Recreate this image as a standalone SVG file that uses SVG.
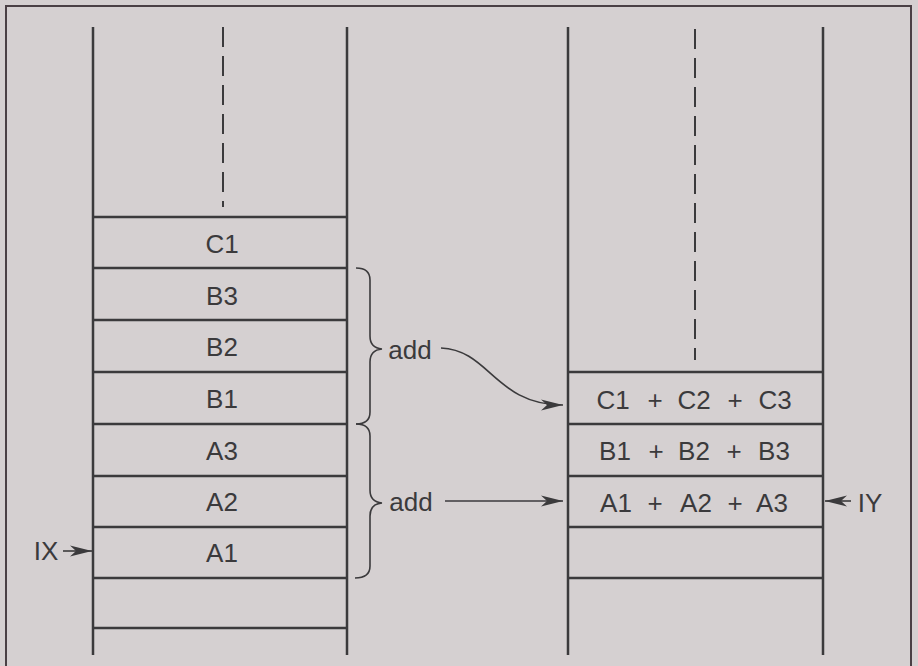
<svg xmlns="http://www.w3.org/2000/svg" width="918" height="666" viewBox="0 0 918 666">
<defs>
<style>
.ln{stroke:#3b3a3c;stroke-width:2.5;fill:none}
.thin{stroke:#3b3a3c;stroke-width:1.6;fill:none}
.dash{stroke:#3b3a3c;stroke-width:2;stroke-dasharray:20 9;fill:none}
.t{font-family:"Liberation Sans",Arial,sans-serif;font-size:26px;fill:#3b3a3c;text-anchor:middle}
</style>
<marker id="ah" viewBox="0 0 22 12" refX="22" refY="6" markerWidth="22" markerHeight="12" markerUnits="userSpaceOnUse" orient="auto">
<path d="M0,0.5 L22,6 L0,11.5 L6,6 Z" fill="#3b3a3c"/>
</marker>
</defs>
<rect width="918" height="666" fill="#d5d0d1"/>
<path d="M6,666 V6 H911 V666" stroke="#4a4045" stroke-width="2" fill="none"/>
<g id="left-stack">
<line class="ln" x1="93" y1="27" x2="93" y2="655"/>
<line class="ln" x1="347" y1="27" x2="347" y2="655"/>
<line class="dash" x1="223" y1="27" x2="223" y2="207"/>
<line class="ln" x1="93" y1="217" x2="347" y2="217"/>
<line class="ln" x1="93" y1="268" x2="347" y2="268"/>
<line class="ln" x1="93" y1="320" x2="347" y2="320"/>
<line class="ln" x1="93" y1="372" x2="347" y2="372"/>
<line class="ln" x1="93" y1="424" x2="347" y2="424"/>
<line class="ln" x1="93" y1="476" x2="347" y2="476"/>
<line class="ln" x1="93" y1="527" x2="347" y2="527"/>
<line class="ln" x1="93" y1="578" x2="347" y2="578"/>
<line class="ln" x1="93" y1="628" x2="347" y2="628"/>
<text class="t" x="222" y="253">C1</text>
<text class="t" x="222" y="305">B3</text>
<text class="t" x="222" y="356">B2</text>
<text class="t" x="222" y="408">B1</text>
<text class="t" x="222" y="460">A3</text>
<text class="t" x="222" y="511">A2</text>
<text class="t" x="222" y="562">A1</text>
</g>
<g id="right-stack">
<line class="ln" x1="568" y1="27" x2="568" y2="655"/>
<line class="ln" x1="823" y1="27" x2="823" y2="655"/>
<line class="dash" x1="695" y1="29" x2="695" y2="360"/>
<line class="ln" x1="568" y1="372" x2="823" y2="372"/>
<line class="ln" x1="568" y1="424" x2="823" y2="424"/>
<line class="ln" x1="568" y1="476" x2="823" y2="476"/>
<line class="ln" x1="568" y1="527" x2="823" y2="527"/>
<line class="ln" x1="568" y1="578" x2="823" y2="578"/>
<text class="t" y="409"><tspan x="613">C1</tspan><tspan x="655">+</tspan><tspan x="694">C2</tspan><tspan x="735">+</tspan><tspan x="775">C3</tspan></text>
<text class="t" y="460"><tspan x="615">B1</tspan><tspan x="656">+</tspan><tspan x="694">B2</tspan><tspan x="734">+</tspan><tspan x="774">B3</tspan></text>
<text class="t" y="512"><tspan x="616">A1</tspan><tspan x="655">+</tspan><tspan x="696">A2</tspan><tspan x="735">+</tspan><tspan x="772">A3</tspan></text>
</g>
<g id="brace-b">
<path class="thin" d="M356,268 Q370,268 370,280 V336 Q370,348 382,349 Q370,350 370,362 V412 Q370,424 356,424"/>
<text class="t" x="410" y="359">add</text>
</g>
<g id="brace-a">
<path class="thin" d="M356,424 Q370,424 370,436 V490 Q370,502 382,503 Q370,504 370,516 V566 Q370,578 355,578"/>
<text class="t" x="411" y="511">add</text>
</g>
<g id="ix">
<text class="t" x="46" y="560" font-size="27">IX</text>
</g>
<g id="iy">
<text class="t" x="870" y="512" font-size="27">IY</text>
</g>
<g id="connectors">
<path class="thin" d="M441,348 C490,350 495,405 563,405" marker-end="url(#ah)"/>
<line class="thin" x1="445" y1="501" x2="563" y2="501" marker-end="url(#ah)"/>
<line class="thin" x1="63" y1="551" x2="92" y2="551" marker-end="url(#ah)"/>
<line class="thin" x1="851" y1="501" x2="825" y2="501" marker-end="url(#ah)"/>
</g>
</svg>
